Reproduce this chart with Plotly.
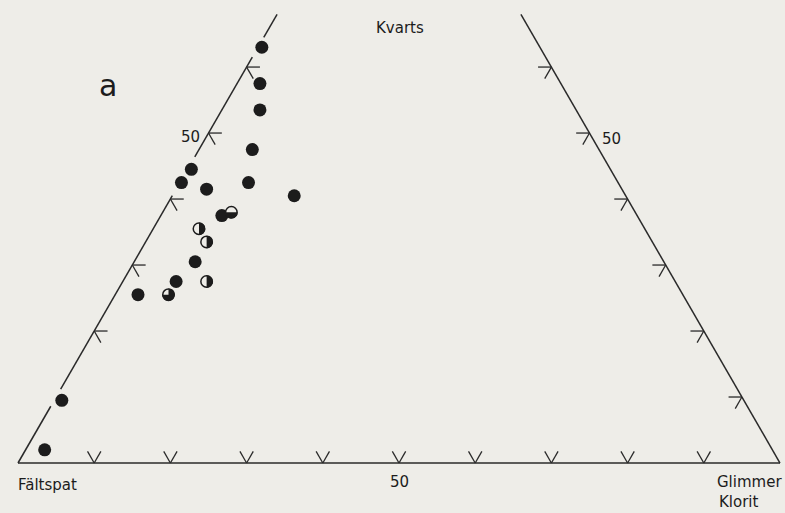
import math
import plotly.graph_objects as go

# ---- data (percent) ----
kvarts   = [63, 57.5, 53.5, 47.5, 44.5, 42.5, 41.5, 42.5, 40.5, 37.5, 38, 35.5, 33.5, 30.5, 27.5, 27.5, 25.5, 25.5, 9.5, 2]
glimmer  = [0.5, 3, 5, 7, 0.5, 0.2, 4, 9, 16, 8, 9, 6, 8, 8, 11, 7, 3, 7, 1, 2.5]
faltspat = [36.5, 39.5, 41.5, 45.5, 55, 57.3, 54.5, 48.5, 43.5, 54.5, 53, 58.5, 58.5, 61.5, 61.5, 65.5, 71.5, 67.5, 89.5, 95.5]
fill_kind = ["full", "full", "full", "full", "full", "full", "full", "full", "full", "full",
             "lower", "right", "right", "full", "right", "full", "full", "threequarter", "full", "full"]

bottom_ticks = [10, 20, 30, 40, 50, 60, 70, 80, 90]
left_ticks = [20, 30, 40, 50, 60]
right_ticks = [10, 20, 30, 40, 50, 60]
left_edge_segments = [(0, 8.6), (11.2, 40.5), (46.4, 61.5), (64.5, 68)]
right_edge_segments = [(0, 68)]

BG = "#eeede8"
INK = "#1c1c1c"
LINE = "#2a2a2a"
S3 = math.sqrt(3) / 2

# axis mapping: 7.62 px per unit, Fältspat corner at pixel (18, 463)
W, H = 785, 513
PX = 7.62
OX, OY = 18, 463
xr = [-OX / PX, (W - OX) / PX]
yr = [-(H - OY) / PX, OY / PX]
R = 6.3 / PX  # marker radius in data units


def to_xy(q, g):
    """ternary (kvarts, glimmer) -> cartesian, Fältspat at origin"""
    return g + q / 2.0, q * S3


fig = go.Figure()

# triangle edges
ex, ey = [], []
x0, y0 = to_xy(0, 0)
x1, y1 = to_xy(0, 100)
ex += [x0, x1, None]; ey += [y0, y1, None]
for a, b in left_edge_segments:
    xa, ya = to_xy(a, 0); xb, yb = to_xy(b, 0)
    ex += [xa, xb, None]; ey += [ya, yb, None]
for a, b in right_edge_segments:
    xa, ya = to_xy(a, 100 - a); xb, yb = to_xy(b, 100 - b)
    ex += [xa, xb, None]; ey += [ya, yb, None]
fig.add_trace(go.Scatter(x=ex, y=ey, mode="lines", line=dict(color=LINE, width=1.5), hoverinfo="skip"))

# arrow-head ticks
L = 1.75
tx, ty = [], []


def add_tick(x, y, normal_deg):
    for d in (normal_deg - 30, normal_deg + 30):
        r = math.radians(d)
        tx.extend([x + L * math.cos(r), x, None])
        ty.extend([y + L * math.sin(r), y, None])


for t in bottom_ticks:
    add_tick(*to_xy(0, t), 90)
for t in left_ticks:
    add_tick(*to_xy(t, 0), -30)
for t in right_ticks:
    add_tick(*to_xy(t, 100 - t), 210)
fig.add_trace(go.Scatter(x=tx, y=ty, mode="lines", line=dict(color=LINE, width=1.3), hoverinfo="skip"))

# filled points
fx, fy = [], []
for q, g, k in zip(kvarts, glimmer, fill_kind):
    if k == "full":
        x, y = to_xy(q, g)
        fx.append(x); fy.append(y)
fig.add_trace(go.Scatter(x=fx, y=fy, mode="markers",
                         marker=dict(size=13, color=INK, line=dict(width=0))))

# partially filled points: open circle + filled sector
arc = {"right": (-90, 90), "lower": (180, 360), "threequarter": (-180, 90)}
hx, hy = [], []
for q, g, k in zip(kvarts, glimmer, fill_kind):
    if k == "full":
        continue
    x, y = to_xy(q, g)
    hx.append(x); hy.append(y)
fig.add_trace(go.Scatter(x=hx, y=hy, mode="markers",
                         marker=dict(size=11.5, color=BG, line=dict(width=1.5, color=INK)),
                         hoverinfo="skip"))
for q, g, k in zip(kvarts, glimmer, fill_kind):
    if k == "full":
        continue
    cx, cy = to_xy(q, g)
    a0, a1 = arc[k]
    n = 24
    px_ = [cx]
    py_ = [cy]
    for i in range(n + 1):
        t = math.radians(a0 + (a1 - a0) * i / n)
        px_.append(cx + R * math.cos(t))
        py_.append(cy + R * math.sin(t))
    px_.append(cx); py_.append(cy)
    fig.add_trace(go.Scatter(x=px_, y=py_, mode="lines", fill="toself", fillcolor=INK,
                             line=dict(width=0, color=INK), hoverinfo="skip"))


def pp(px, py):
    return px / W, 1 - py / H


FONT = dict(family="DejaVu Sans", size=15, color=INK)
ann = []


def label(text, px, py, xanchor="center", size=15):
    x, y = pp(px, py)
    ann.append(dict(text=text, x=x, y=y, xref="paper", yref="paper", xanchor=xanchor, yanchor="middle",
                    showarrow=False, font=dict(FONT, size=size)))


label("Kvarts", 400, 28)
label("50", 399, 482)
label("50", 190, 137)
label("50", 611, 139)
label("Fältspat", 16, 485, "left")
label("Glimmer", 715, 482, "left")
label("Klorit", 717, 502, "left")
label("a", 108, 85, size=30)

fig.update_layout(
    width=W, height=H, margin=dict(l=0, r=0, t=0, b=0),
    paper_bgcolor=BG, plot_bgcolor=BG, showlegend=False,
    xaxis=dict(range=xr, visible=False, fixedrange=True),
    yaxis=dict(range=yr, visible=False, fixedrange=True),
    annotations=ann,
)

fig.write_html("out.html", config={"displayModeBar": False},
               post_script="document.body.style.margin='0';document.body.style.padding='0';")
